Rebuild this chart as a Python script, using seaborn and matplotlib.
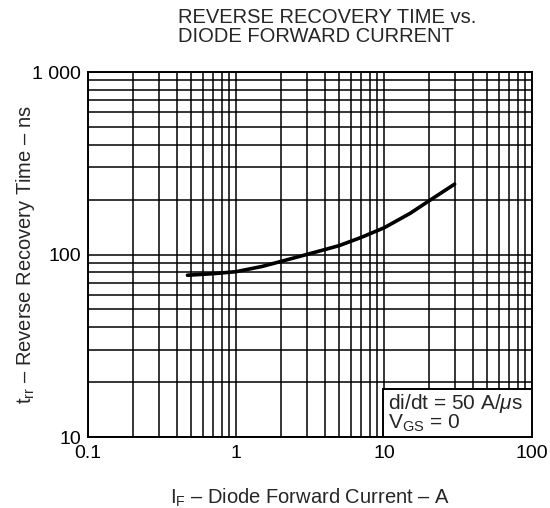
import numpy as np
import pandas as pd
import matplotlib
matplotlib.use("Agg")
import matplotlib.pyplot as plt
import seaborn as sns
from matplotlib.ticker import LogLocator, NullFormatter
from matplotlib.patches import Rectangle

# values
forward_current = [0.47, 0.7, 1.0, 1.5, 2.0, 3.0, 4.0, 5.0, 7.0, 10.0, 15.0, 20.0, 30.0]
recovery_time = [77, 78.5, 80.5, 86, 91.5, 100, 106.5, 112, 124, 140, 168, 196, 243]

x_ticks = [0.1, 1, 10, 100]
x_tick_labels = ["0.1", "1", "10", "100"]
y_ticks = [10, 100, 1000]
y_tick_labels = ["10", "100", "1 000"]

df = pd.DataFrame({"IF": forward_current, "trr": recovery_time})

sns.set_style("white")
plt.rcParams["font.family"] = ["Liberation Sans", "DejaVu Sans"]
plt.rcParams["mathtext.fontset"] = "custom"
plt.rcParams["mathtext.rm"] = "Liberation Sans"
plt.rcParams["mathtext.it"] = "Liberation Sans:italic"

fig = plt.figure(figsize=(5.5, 5.08), dpi=100)
ax = fig.add_axes([88 / 550, 71 / 508, 444 / 550, 365 / 508])

ax.set_xscale("log")
ax.set_yscale("log")
ax.set_xlim(0.1, 100)
ax.set_ylim(10, 1000)

# log grid, every minor line in black
ax.xaxis.set_minor_locator(LogLocator(base=10, subs=np.arange(2, 10)))
ax.yaxis.set_minor_locator(LogLocator(base=10, subs=np.arange(2, 10)))
ax.xaxis.set_minor_formatter(NullFormatter())
ax.yaxis.set_minor_formatter(NullFormatter())
ax.grid(True, which="both", color="black", linewidth=1.1)
ax.set_axisbelow(True)

sns.lineplot(data=df, x="IF", y="trr", ax=ax, color="black", linewidth=2.6, zorder=3)

ax.set_xticks(x_ticks)
ax.set_xticklabels(x_tick_labels)
ax.set_yticks(y_ticks)
ax.set_yticklabels(y_tick_labels)
ax.tick_params(which="both", length=0, labelsize=14, colors="black")
ax.tick_params(axis="x", pad=6)
ax.tick_params(axis="y", pad=5)
for s in ax.spines.values():
    s.set_color("black")
    s.set_linewidth(1.4)

ax.set_xlabel(r"I$\mathregular{_F}$ – Diode Forward Current – A", fontsize=14.5)
ax.xaxis.set_label_coords(0.5, -0.135)
ax.set_ylabel(r"t$\mathregular{_{rr}}$ – Reverse Recovery Time – ns", fontsize=14.5)
ax.yaxis.set_label_coords(-0.115, 0.5)

# condition box in the lower right corner
box_x = (383 - 88) / 444
box_h = (437 - 389) / 365
ax.add_patch(Rectangle((box_x, 0), 1 - box_x, box_h, transform=ax.transAxes,
                       facecolor="white", edgecolor="black", linewidth=1.4, zorder=4))
ax.text(box_x + 0.012, 0.008, "di/dt = 50 A/$\\mu$s\nV$\\mathregular{_{GS}}$ = 0",
        transform=ax.transAxes, fontsize=15, va="bottom", ha="left",
        linespacing=0.85, zorder=5)

fig.text(178 / 550, 1 - 8 / 508, "REVERSE RECOVERY TIME vs.\nDIODE FORWARD CURRENT",
         ha="left", va="top", fontsize=14.5, linespacing=1.0)

fig.savefig("out.png", dpi=100)
